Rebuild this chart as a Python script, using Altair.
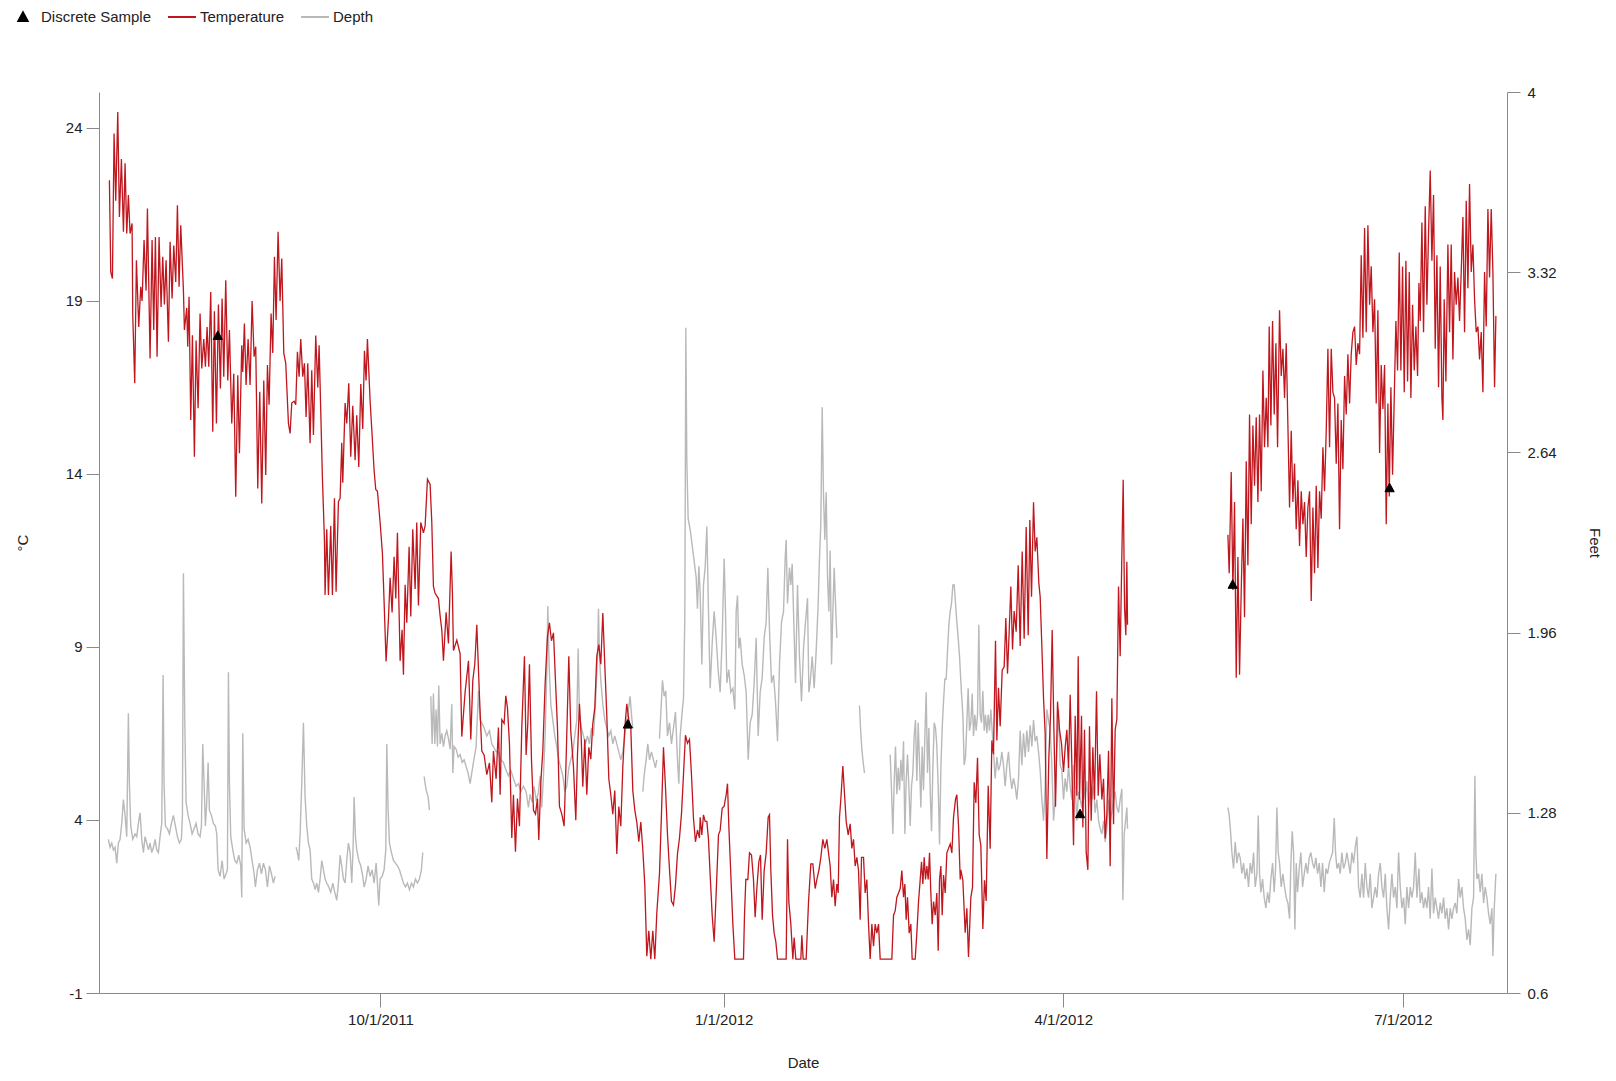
import altair as alt
import pandas as pd

# ---------------- data ----------------
# (days after 2011-10-01, value); None marks a gap in the record
temperature = [
    (-72.63, 22.49), (-72.27, 19.84), (-71.82, 19.65), (-71.38, 23.84), (-70.93, 21.9), (-70.39, 24.46),
    (-69.95, 21.43), (-69.41, 23.1), (-68.87, 21.0), (-68.43, 22.98), (-67.98, 20.95), (-67.54, 22.06),
    (-67.09, 20.95), (-66.55, 21.24), (-66.37, 18.59), (-65.84, 16.62), (-65.39, 20.18), (-64.77, 18.25),
    (-64.23, 19.41), (-63.87, 19.0), (-63.34, 20.76), (-62.80, 19.3), (-62.44, 21.67), (-61.73, 17.34),
    (-61.19, 20.76), (-60.75, 18.16), (-60.30, 20.85), (-59.85, 17.39), (-59.32, 20.85), (-58.78, 18.83),
    (-58.33, 20.28), (-57.89, 18.9), (-57.44, 20.18), (-56.81, 17.82), (-56.37, 20.71), (-55.83, 19.07),
    (-55.38, 20.6), (-54.85, 19.55), (-54.40, 21.77), (-53.96, 19.41), (-53.51, 21.19), (-52.79, 19.3),
    (-52.53, 18.16), (-51.90, 18.8), (-51.63, 17.68), (-51.28, 19.12), (-50.83, 15.56), (-50.38, 18.01),
    (-49.85, 14.5), (-49.40, 17.86), (-48.86, 15.9), (-48.33, 18.64), (-47.88, 17.05), (-47.34, 17.9),
    (-46.90, 17.1), (-46.45, 18.25), (-46.00, 17.1), (-45.47, 19.26), (-44.93, 15.22), (-44.49, 18.7),
    (-43.95, 15.46), (-43.41, 18.9), (-42.88, 16.47), (-42.43, 19.07), (-41.98, 16.81), (-41.45, 19.6),
    (-40.91, 16.7), (-40.46, 18.16), (-39.84, 15.46), (-39.30, 16.9), (-38.77, 13.34), (-38.23, 16.85),
    (-37.78, 14.6), (-37.16, 17.72), (-36.89, 16.95), (-36.45, 18.35), (-36.00, 16.57), (-35.46, 17.9),
    (-34.93, 16.57), (-34.39, 19.0), (-33.85, 17.39), (-33.41, 17.68), (-32.87, 13.58), (-32.34, 16.38),
    (-31.80, 13.15), (-31.26, 16.7), (-30.73, 13.97), (-30.28, 17.15), (-29.83, 16.0), (-29.30, 18.64),
    (-28.85, 17.5), (-28.40, 20.28), (-27.96, 18.45), (-27.42, 21.0), (-26.89, 19.0), (-26.44, 20.23),
    (-25.90, 17.5), (-25.37, 17.2), (-24.65, 15.46), (-24.20, 15.17), (-23.76, 16.05), (-23.13, 16.1),
    (-22.69, 16.0), (-22.24, 17.53), (-21.79, 16.81), (-21.35, 17.9), (-20.81, 16.81), (-20.36, 17.2),
    (-19.92, 15.65), (-19.47, 17.2), (-18.85, 14.89), (-18.40, 17.0), (-17.95, 15.13), (-17.33, 18.0),
    (-16.79, 16.5), (-16.43, 17.72), (-15.54, 13.88), (-15.00, 12.1), (-14.83, 10.5), (-14.38, 12.4),
    (-13.93, 10.5), (-13.31, 12.5), (-12.86, 10.5), (-12.32, 13.3), (-11.88, 10.6), (-11.25, 13.2),
    (-10.80, 13.3), (-10.36, 14.9), (-10.09, 13.75), (-9.46, 16.05), (-9.02, 15.46), (-8.48, 16.62),
    (-7.95, 14.5), (-7.41, 15.97), (-6.78, 14.4), (-6.34, 15.7), (-5.80, 14.2), (-5.26, 16.6),
    (-4.73, 15.3), (-4.28, 17.56), (-3.84, 16.7), (-3.48, 17.9), (-2.76, 16.1), (-2.32, 15.3),
    (-1.69, 14.1), (-1.25, 13.55), (-0.80, 13.5), (-0.08, 12.6), (0.54, 11.7), (0.99, 10.3),
    (1.52, 8.58), (2.15, 9.8), (2.60, 11.0), (3.13, 10.0), (3.67, 11.61), (4.12, 10.4),
    (4.56, 12.3), (5.28, 8.6), (5.81, 9.5), (6.17, 8.2), (6.62, 10.8), (7.07, 9.7),
    (7.69, 11.9), (8.14, 9.88), (8.67, 12.4), (9.30, 10.68), (9.74, 12.6), (10.19, 10.2),
    (10.82, 12.6), (11.53, 12.3), (11.98, 12.5), (12.61, 13.85), (13.32, 13.7), (13.77, 12.6),
    (14.21, 10.75), (14.66, 10.55), (15.55, 10.4), (16.00, 9.9), (16.45, 9.5), (16.89, 8.6),
    (17.61, 10.0), (18.23, 9.1), (18.95, 11.76), (19.30, 10.55), (19.57, 8.9), (20.47, 9.2),
    (21.36, 8.8), (21.81, 6.41), (22.70, 7.7), (23.60, 8.6), (24.22, 6.33), (24.76, 8.04),
    (25.29, 8.5), (25.83, 9.64), (26.54, 7.59), (27.17, 5.99), (27.79, 5.88), (28.51, 5.31),
    (29.22, 5.65), (29.85, 4.51), (30.29, 5.99), (31.01, 5.19), (31.63, 6.67), (32.08, 4.73),
    (32.53, 6.9), (33.15, 6.79), (33.60, 7.59), (34.05, 7.24), (34.58, 6.22), (35.21, 3.48),
    (35.65, 4.73), (36.19, 3.08), (36.73, 4.62), (37.26, 3.82), (37.89, 6.67), (38.60, 8.73),
    (39.05, 5.88), (39.50, 6.79), (39.94, 8.5), (40.48, 5.76), (41.02, 4.28), (41.55, 4.17),
    (42.09, 4.62), (42.44, 3.42), (42.98, 5.08), (43.52, 5.99), (44.14, 7.93), (44.77, 9.3),
    (45.30, 9.7), (45.84, 9.18), (46.38, 9.41), (46.91, 8.04), (47.45, 6.67), (47.98, 4.39),
    (48.61, 4.17), (49.23, 3.82), (49.77, 5.76), (50.49, 8.73), (51.02, 6.56), (51.74, 5.53),
    (52.36, 3.99), (52.81, 5.88), (53.34, 7.36), (53.79, 6.45), (54.24, 4.96), (54.77, 6.33),
    (55.31, 4.73), (55.85, 6.1), (56.38, 5.76), (56.92, 6.79), (57.45, 7.24), (57.99, 8.73),
    (58.53, 9.07), (59.06, 8.5), (59.60, 9.98), (60.13, 8.5), (60.67, 7.02), (61.21, 5.19),
    (61.74, 4.73), (62.28, 4.17), (62.81, 4.85), (63.35, 3.02), (63.89, 4.39), (64.42, 3.82),
    (64.96, 5.53), (65.50, 6.67), (66.03, 7.36), (66.57, 6.9), (67.10, 6.67), (67.64, 4.85),
    (68.18, 4.28), (68.71, 3.94), (69.25, 3.37), (69.78, 3.94), (70.32, 3.14), (70.86, 2.11),
    (71.39, 0.06), (71.93, 0.8), (72.46, -0.02), (73.00, 0.8), (73.54, -0.02), (74.07, 1.31),
    (74.79, 2.45), (75.32, 4.17), (75.86, 6.1), (76.39, 4.96), (76.93, 3.59), (77.47, 2.57),
    (78.00, 1.65), (78.54, 1.54), (79.07, 2.11), (79.61, 3.02), (80.15, 3.48), (80.68, 4.17),
    (81.22, 5.31), (81.75, 6.45), (82.29, 6.22), (82.83, 6.33), (83.36, 5.31), (83.90, 4.05),
    (84.43, 3.37), (84.97, 3.71), (85.51, 3.48), (85.69, 4.08), (86.14, 3.57), (86.58, 4.15),
    (87.03, 3.96), (87.48, 3.96), (87.92, 3.44), (88.37, 2.41), (88.91, 1.25), (89.44, 0.48),
    (89.98, 1.89), (90.60, 3.57), (91.05, 3.7), (91.59, 4.34), (92.12, 4.4), (92.66, 4.73),
    (93.02, 5.05), (93.37, 3.83), (93.91, 2.41), (94.45, 0.99), (94.98, -0.02), (97.30, -0.02),
    (97.57, 1.25), (97.93, 2.28), (98.47, 2.28), (98.91, 3.05), (99.45, 2.99), (99.98, 2.28),
    (100.43, 1.19), (100.88, 2.02), (101.41, 2.79), (101.86, 2.99), (102.31, 1.12), (102.84, 2.54),
    (103.38, 3.05), (103.92, 4.08), (104.27, 4.15), (104.63, 2.54), (105.08, 1.25), (105.52, 0.73),
    (105.97, 0.48), (106.42, -0.02), (108.74, -0.02), (109.10, 3.44), (109.45, 1.64), (109.99, 0.99),
    (110.53, -0.02), (110.88, 0.6), (111.33, -0.02), (112.67, -0.02), (112.94, 0.67), (113.30, -0.02),
    (114.10, -0.02), (114.73, 1.64), (115.35, 2.73), (115.89, 2.73), (116.51, 2.02), (116.96, 2.28),
    (117.50, 2.54), (118.03, 2.92), (118.57, 3.44), (119.10, 3.18), (119.64, 3.44), (120.09, 3.05),
    (120.53, 2.67), (120.98, 1.77), (121.43, 2.28), (121.87, 1.51), (122.32, 2.15), (122.68, 1.89),
    (123.03, 4.08), (123.39, 4.6), (123.93, 5.56), (124.46, 4.6), (124.82, 3.96), (125.36, 3.57),
    (125.89, 3.89), (126.34, 3.18), (126.79, 3.44), (127.23, 2.67), (127.68, 2.92), (128.13, 2.54),
    (128.57, 1.12), (128.93, 2.92), (129.47, 2.92), (129.91, 1.89), (130.36, 2.28), (130.81, 0.99),
    (131.25, -0.02), (131.70, 0.99), (132.15, 0.35), (132.59, 0.99), (133.04, 0.73), (133.49, 0.99),
    (133.93, -0.02), (137.06, -0.02), (137.51, 1.25), (137.96, 1.38), (138.40, 1.77), (138.85, 1.89),
    (139.30, 2.02), (139.74, 2.54), (140.19, 1.77), (140.55, 2.15), (140.90, 1.12), (141.26, 1.77),
    (141.71, 0.73), (142.15, 0.99), (142.51, -0.02), (143.32, -0.02), (143.76, 0.73), (144.21, 1.64),
    (144.66, 2.28), (145.01, 2.79), (145.37, 2.15), (145.73, 2.92), (146.08, 2.28), (146.44, 2.67),
    (146.80, 2.28), (147.16, 3.05), (147.51, 1.89), (147.87, 0.99), (148.23, 1.64), (148.68, 1.25),
    (149.12, 1.89), (149.48, 0.22), (149.84, 2.28), (150.20, 2.67), (150.55, 1.25), (150.91, 2.41),
    (151.36, 1.89), (151.80, 3.05), (152.25, 3.18), (152.70, 3.31), (153.14, 3.05), (153.59, 4.08),
    (154.13, 4.6), (154.48, 4.73), (154.93, 3.83), (155.38, 2.28), (155.55, 2.56), (156.09, 2.26),
    (156.71, 0.74), (157.16, 1.45), (157.60, 0.04), (158.23, 1.76), (158.68, 2.06), (159.12, 5.09),
    (159.57, 4.49), (160.02, 5.8), (160.46, 3.58), (160.91, 3.27), (161.45, 0.85), (161.89, 2.26),
    (162.34, 1.66), (162.88, 4.99), (163.41, 3.17), (163.86, 6.3), (164.30, 5.9), (164.84, 9.18),
    (165.20, 6.3), (165.64, 7.82), (166.09, 6.71), (166.63, 8.33), (167.16, 8.43), (167.61, 9.84),
    (168.06, 8.23), (168.50, 9.44), (168.95, 10.75), (169.40, 8.93), (169.84, 10.04), (170.38, 9.44),
    (170.92, 11.36), (171.45, 9.03), (171.99, 11.76), (172.52, 9.24), (173.06, 12.47), (173.60, 9.34),
    (174.04, 12.67), (174.49, 10.45), (175.03, 13.18), (175.47, 11.76), (175.92, 12.17), (176.45, 10.85),
    (176.81, 10.45), (177.26, 9.03), (177.71, 7.52), (178.15, 6.51), (178.60, 2.87), (179.13, 5.8),
    (179.58, 7.01), (180.03, 9.49), (180.47, 6.71), (180.92, 4.38), (181.46, 7.42), (181.99, 6.61),
    (182.53, 6.2), (183.07, 5.39), (183.51, 6.1), (183.96, 6.61), (184.41, 5.5), (184.85, 7.62),
    (185.30, 5.6), (185.75, 3.27), (186.19, 7.01), (186.64, 4.7), (187.00, 8.73), (187.35, 4.59),
    (187.89, 7.01), (188.25, 3.78), (188.69, 6.61), (189.14, 3.07), (189.59, 2.56), (190.03, 6.71),
    (190.48, 3.98), (190.93, 6.1), (191.38, 4.59), (191.91, 7.72), (192.36, 4.7), (192.80, 5.9),
    (193.34, 4.59), (193.79, 5.19), (194.23, 3.47), (194.68, 4.18), (195.13, 6.0), (195.57, 2.66),
    (196.02, 7.52), (196.47, 3.88), (196.91, 6.61), (197.36, 6.91), (197.81, 10.75), (198.25, 8.73),
    (198.70, 11.66), (199.06, 13.83), (199.42, 10.15), (199.77, 9.34), (200.04, 11.46), (200.22, 9.64),
    None,
    (227.12, 12.24), (227.47, 11.13), (228.01, 14.06), (228.46, 10.65), (228.90, 13.19), (229.35, 8.11),
    (229.80, 11.6), (230.24, 8.2), (230.69, 10.65), (231.14, 12.71), (231.58, 9.86), (232.03, 14.37),
    (232.48, 11.36), (232.92, 15.72), (233.37, 12.55), (233.82, 15.4), (234.26, 13.66), (234.71, 15.64),
    (235.16, 13.19), (235.60, 15.72), (236.05, 13.5), (236.50, 16.99), (236.94, 14.77), (237.39, 16.2),
    (237.84, 14.77), (238.19, 18.26), (238.64, 15.4), (239.09, 18.42), (239.53, 15.72), (239.98, 17.78),
    (240.43, 14.77), (240.96, 18.73), (241.41, 16.83), (241.86, 17.62), (242.30, 16.2), (242.75, 17.78),
    (243.20, 15.4), (243.64, 13.03), (244.09, 15.25), (244.54, 13.19), (244.98, 14.3), (245.43, 12.4),
    (245.88, 13.82), (246.32, 11.92), (246.77, 13.5), (247.22, 12.55), (247.66, 13.19), (248.11, 11.6),
    (248.56, 13.03), (249.00, 13.5), (249.45, 10.33), (249.90, 13.03), (250.34, 11.13), (250.79, 13.66),
    (251.24, 11.28), (251.68, 13.5), (252.13, 12.71), (252.58, 14.77), (253.02, 13.5), (253.47, 15.25),
    (253.92, 17.62), (254.36, 14.77), (254.81, 17.62), (255.26, 16.36), (255.70, 16.2), (256.15, 14.3),
    (256.60, 16.04), (257.04, 12.4), (257.49, 15.56), (257.94, 14.14), (258.39, 16.83), (258.83, 15.72),
    (259.28, 17.46), (259.73, 16.04), (260.17, 17.46), (260.62, 18.1), (261.07, 18.26), (261.51, 17.15),
    (261.96, 17.78), (262.41, 17.46), (262.85, 20.32), (263.30, 17.94), (263.75, 21.11), (264.19, 18.1),
    (264.64, 21.19), (265.09, 18.89), (265.53, 20.0), (265.98, 18.1), (266.43, 19.05), (266.87, 16.04),
    (267.32, 18.73), (267.77, 14.61), (268.21, 17.15), (268.66, 15.88), (269.11, 17.15), (269.55, 12.55),
    (270.00, 16.04), (270.36, 13.35), (270.80, 16.51), (271.25, 13.98), (271.70, 16.2), (272.14, 18.42),
    (272.59, 16.99), (273.04, 20.4), (273.48, 16.99), (273.93, 20.0), (274.38, 16.36), (274.82, 20.16),
    (275.27, 16.67), (275.72, 19.84), (276.16, 16.2), (276.61, 18.89), (277.06, 16.99), (277.50, 18.26),
    (277.95, 16.83), (278.31, 19.52), (278.66, 18.42), (279.11, 21.27), (279.55, 18.1), (280.00, 21.74),
    (280.45, 18.89), (280.89, 20.95), (281.34, 22.77), (281.79, 20.16), (282.23, 22.06), (282.68, 17.62),
    (283.13, 20.32), (283.57, 16.51), (284.02, 20.0), (284.47, 16.2), (284.74, 15.56), (285.09, 19.05),
    (285.54, 16.67), (286.08, 20.63), (286.52, 18.1), (286.97, 20.63), (287.42, 17.31), (287.86, 19.84),
    (288.31, 18.89), (288.76, 19.68), (289.20, 18.42), (289.65, 19.84), (290.10, 21.43), (290.54, 18.1),
    (290.99, 21.9), (291.44, 19.37), (291.88, 22.38), (292.33, 19.84), (292.78, 20.63), (293.22, 19.05),
    (293.67, 18.1), (294.12, 18.26), (294.56, 17.31), (295.01, 18.1), (295.46, 16.36), (295.90, 19.84),
    (296.35, 18.26), (296.80, 21.66), (297.24, 19.68), (297.69, 21.66), (298.14, 19.84), (298.58, 16.51),
    (298.94, 18.57),
]

depth = [
    (-72.90, 1.18), (-72.45, 1.15), (-72.00, 1.166), (-71.56, 1.14), (-71.11, 1.15), (-70.66, 1.09),
    (-70.22, 1.166), (-69.77, 1.18), (-69.32, 1.24), (-68.88, 1.33), (-68.43, 1.27), (-67.98, 1.19),
    (-67.54, 1.656), (-67.27, 1.39), (-66.91, 1.23), (-66.37, 1.18), (-65.75, 1.2), (-65.30, 1.19),
    (-64.86, 1.24), (-64.41, 1.28), (-63.96, 1.18), (-63.51, 1.13), (-63.07, 1.19), (-62.62, 1.166),
    (-62.17, 1.14), (-61.73, 1.166), (-61.28, 1.13), (-60.83, 1.15), (-60.39, 1.18), (-59.94, 1.14),
    (-59.50, 1.13), (-59.05, 1.19), (-58.60, 1.24), (-58.24, 1.8), (-57.98, 1.39), (-57.62, 1.23),
    (-57.08, 1.22), (-56.55, 1.2), (-56.01, 1.24), (-55.47, 1.27), (-54.94, 1.23), (-54.40, 1.19),
    (-53.87, 1.166), (-53.33, 1.18), (-53.06, 1.27), (-52.79, 2.184), (-52.44, 1.64), (-52.08, 1.32),
    (-51.54, 1.27), (-51.01, 1.24), (-50.47, 1.2), (-49.94, 1.22), (-49.40, 1.24), (-48.86, 1.2),
    (-48.33, 1.19), (-47.97, 1.23), (-47.61, 1.54), (-47.25, 1.39), (-46.90, 1.23), (-46.54, 1.32),
    (-46.18, 1.47), (-45.83, 1.29), (-45.29, 1.27), (-44.75, 1.24), (-44.22, 1.23), (-43.86, 1.2),
    (-43.50, 1.065), (-42.97, 1.04), (-42.43, 1.1), (-41.89, 1.03), (-41.36, 1.05), (-41.00, 1.065),
    (-40.73, 1.81), (-40.46, 1.39), (-40.11, 1.19), (-39.57, 1.14), (-39.03, 1.1), (-38.50, 1.09),
    (-37.96, 1.12), (-37.43, 1.08), (-37.16, 0.96), (-36.89, 1.58), (-36.53, 1.22), (-35.99, 1.166),
    (-35.46, 1.18), (-34.93, 1.15), (-34.39, 1.1), (-33.85, 1.05), (-33.50, 1.0), (-32.96, 1.065),
    (-32.42, 1.09), (-31.89, 1.05), (-31.35, 1.09), (-30.82, 1.065), (-30.28, 1.0), (-29.74, 1.08),
    (-29.21, 1.05), (-28.67, 1.015), (-28.22, 1.04),
    None,
    (-22.60, 1.15), (-22.24, 1.13), (-21.88, 1.1), (-21.52, 1.2), (-21.08, 1.39), (-20.63, 1.62),
    (-20.19, 1.34), (-19.74, 1.23), (-19.29, 1.166), (-18.84, 1.14), (-18.40, 1.03), (-17.95, 1.015),
    (-17.50, 0.99), (-17.06, 1.015), (-16.61, 0.98), (-16.16, 1.03), (-15.72, 1.1), (-15.27, 1.065),
    (-14.82, 1.03), (-14.38, 1.015), (-13.84, 1.0), (-13.30, 0.98), (-12.77, 1.015), (-12.23, 0.98),
    (-11.70, 0.95), (-11.25, 1.015), (-10.80, 1.12), (-10.36, 1.08), (-9.91, 1.03), (-9.46, 1.015),
    (-9.02, 1.1), (-8.57, 1.166), (-8.12, 1.13), (-7.68, 1.015), (-7.32, 1.15), (-7.05, 1.34),
    (-6.69, 1.19), (-6.34, 1.14), (-5.80, 1.1), (-5.26, 1.08), (-4.73, 1.04), (-4.37, 1.0),
    (-3.83, 1.03), (-3.30, 1.08), (-2.76, 1.04), (-2.22, 1.065), (-1.69, 1.015), (-1.15, 1.09),
    (-0.80, 1.015), (-0.44, 0.93), (-0.08, 1.03), (0.45, 1.04), (0.99, 1.065), (1.44, 1.14),
    (1.71, 1.54), (2.06, 1.29), (2.42, 1.166), (2.95, 1.13), (3.49, 1.1), (4.03, 1.09),
    (4.56, 1.08), (5.10, 1.065), (5.63, 1.04), (6.17, 1.015), (6.71, 1.0), (7.24, 1.015),
    (7.78, 0.99), (8.32, 1.015), (8.85, 1.0), (9.39, 1.03), (9.92, 1.015), (10.46, 1.03),
    (10.99, 1.065), (11.35, 1.13),
    None,
    (11.71, 1.417), (12.25, 1.367), (12.78, 1.34), (13.14, 1.29),
    None,
    (13.50, 1.72), (13.86, 1.54), (14.21, 1.73), (14.57, 1.54), (14.93, 1.67), (15.28, 1.53),
    (15.64, 1.76), (16.00, 1.54), (16.45, 1.58), (16.89, 1.53), (17.34, 1.57), (17.79, 1.59),
    (18.23, 1.56), (18.68, 1.52), (19.13, 1.69), (19.40, 1.43), (19.75, 1.53), (20.29, 1.52),
    (20.83, 1.49), (21.36, 1.5), (21.90, 1.47), (22.43, 1.48), (22.97, 1.455), (23.50, 1.43),
    (24.04, 1.39), (24.93, 1.47), (25.65, 1.53), (26.27, 1.74), (26.72, 1.63), (27.17, 1.62),
    (27.79, 1.6), (28.51, 1.57), (29.22, 1.59), (29.85, 1.54), (30.29, 1.53), (31.01, 1.51),
    (31.63, 1.51), (32.26, 1.48), (32.97, 1.47), (33.69, 1.44), (34.31, 1.42), (34.94, 1.44),
    (35.65, 1.41), (36.37, 1.38), (37.00, 1.39), (37.62, 1.36), (38.33, 1.38), (39.05, 1.36),
    (39.67, 1.3), (40.12, 1.35), (40.66, 1.32), (41.19, 1.38), (41.73, 1.33), (42.27, 1.35),
    (42.80, 1.42), (43.25, 1.3), (43.70, 1.42), (44.14, 1.57), (44.59, 1.81), (44.86, 2.06),
    (45.21, 1.84), (45.66, 1.69), (46.20, 1.63), (46.73, 1.57), (47.27, 1.53), (47.80, 1.48),
    (48.34, 1.45), (48.88, 1.42), (49.41, 1.36), (49.95, 1.38), (50.49, 1.45), (51.02, 1.48),
    (51.56, 1.51), (52.09, 1.57), (52.63, 1.63), (52.99, 1.9), (53.34, 1.65), (53.88, 1.6),
    (54.42, 1.57), (54.95, 1.54), (55.49, 1.57), (56.02, 1.54), (56.56, 1.6), (57.10, 1.57),
    (57.63, 1.69), (58.17, 1.87), (58.44, 2.05), (58.71, 1.87), (59.06, 1.78), (59.60, 1.69),
    (60.13, 1.63), (60.67, 1.6), (61.21, 1.57), (61.74, 1.59), (62.28, 1.54), (62.81, 1.57),
    (63.35, 1.54), (63.89, 1.51), (64.42, 1.48), (64.96, 1.51), (65.50, 1.57), (66.03, 1.63),
    (66.57, 1.68), (66.92, 1.72), (67.28, 1.65), (67.64, 1.6),
    None,
    (70.32, 1.36), (70.68, 1.42), (71.21, 1.48), (71.66, 1.54), (72.11, 1.48), (72.64, 1.51),
    (73.18, 1.48), (73.71, 1.45), (74.07, 1.48),
    None,
    (74.79, 1.56), (75.23, 1.68), (75.59, 1.78), (76.04, 1.72), (76.48, 1.74), (76.93, 1.57),
    (77.47, 1.62), (78.00, 1.54), (78.54, 1.6), (79.07, 1.66), (79.61, 1.48), (79.97, 1.39),
    (80.33, 1.57), (80.86, 1.66), (81.22, 1.71), (81.58, 2.02), (81.85, 3.11), (82.11, 2.61),
    (82.47, 2.39), (83.00, 2.35), (83.54, 2.29), (84.08, 2.23), (84.61, 2.17), (84.97, 2.05),
    (85.33, 2.21), (85.69, 2.11), (86.14, 1.84), (86.58, 2.14), (87.03, 2.205), (87.48, 2.36),
    (87.92, 2.04), (88.37, 1.75), (88.91, 1.92), (89.44, 2.04), (89.98, 1.94), (90.51, 1.82),
    (91.05, 1.735), (91.59, 1.94), (92.12, 2.24), (92.48, 2.04), (92.84, 1.77), (93.37, 1.82),
    (93.91, 1.735), (94.45, 1.75), (94.98, 1.67), (95.34, 2.04), (95.70, 2.1), (96.05, 1.9),
    (96.41, 1.94), (96.95, 1.84), (97.48, 1.8), (98.02, 1.735), (98.56, 1.48), (99.09, 1.62),
    (99.63, 1.65), (100.16, 1.77), (100.70, 1.94), (101.24, 1.57), (101.77, 1.735), (102.31, 1.79),
    (102.84, 1.94), (103.38, 2.0), (103.83, 2.205), (104.27, 1.97), (104.81, 1.77), (105.35, 1.8),
    (105.88, 1.7), (106.42, 1.55), (106.95, 1.84), (107.49, 2.0), (108.03, 2.04), (108.47, 2.24),
    (108.74, 2.31), (109.10, 2.07), (109.63, 2.205), (109.99, 2.14), (110.35, 2.22), (110.71, 2.04),
    (111.24, 1.77), (111.78, 2.14), (112.31, 1.87), (112.85, 1.7), (113.39, 1.9), (113.92, 2.0),
    (114.46, 2.09), (114.82, 1.735), (115.17, 1.77), (115.71, 1.87), (116.25, 1.75), (116.78, 1.89),
    (117.32, 2.07), (117.67, 2.24), (118.03, 2.375), (118.39, 2.81), (118.75, 2.475), (119.10, 2.31),
    (119.46, 2.49), (119.82, 2.17), (120.18, 2.04), (120.53, 2.27), (120.89, 1.84), (121.25, 2.04),
    (121.61, 2.205), (121.96, 2.07), (122.32, 1.94),
    None,
    (128.39, 1.685), (128.66, 1.6), (129.02, 1.52), (129.38, 1.47), (129.73, 1.43),
    None,
    (136.61, 1.5), (136.97, 1.365), (137.33, 1.2), (137.69, 1.4), (138.04, 1.53), (138.40, 1.35),
    (138.76, 1.45), (139.12, 1.365), (139.47, 1.48), (139.83, 1.4), (140.19, 1.55), (140.55, 1.2),
    (140.90, 1.4), (141.26, 1.5), (141.62, 1.38), (141.97, 1.23), (142.33, 1.38), (142.69, 1.43),
    (143.05, 1.57), (143.40, 1.63), (143.76, 1.4), (144.12, 1.62), (144.48, 1.47), (144.83, 1.3),
    (145.19, 1.53), (145.55, 1.365), (145.91, 1.57), (146.26, 1.735), (146.62, 1.43), (146.98, 1.6),
    (147.34, 1.365), (147.69, 1.21), (148.05, 1.45), (148.41, 1.62), (148.77, 1.6), (149.12, 1.53),
    (149.48, 1.38), (149.84, 1.16), (150.20, 1.45), (150.55, 1.6), (150.91, 1.7), (151.27, 1.785),
    (151.62, 1.785), (151.98, 1.89), (152.34, 1.99), (152.70, 2.04), (153.05, 2.07), (153.41, 2.14),
    (153.77, 2.14), (154.13, 2.07), (154.48, 2.0), (154.84, 1.94), (155.20, 1.87), (155.73, 1.73),
    (156.09, 1.65), (156.44, 1.46), (156.80, 1.49), (157.16, 1.62), (157.51, 1.75), (157.87, 1.59),
    (158.23, 1.62), (158.59, 1.73), (158.94, 1.57), (159.30, 1.65), (159.66, 1.59), (160.02, 1.65),
    (160.37, 1.99), (160.73, 1.65), (161.09, 1.62), (161.45, 1.74), (161.80, 1.59), (162.16, 1.65),
    (162.52, 1.58), (162.88, 1.65), (163.23, 1.59), (163.59, 1.67), (163.95, 1.59), (164.30, 1.51),
    (164.75, 1.41), (165.20, 1.49), (165.64, 1.44), (166.09, 1.46), (166.54, 1.51), (166.98, 1.46),
    (167.43, 1.38), (167.88, 1.46), (168.32, 1.51), (168.77, 1.42), (169.22, 1.37), (169.67, 1.41),
    (170.11, 1.38), (170.56, 1.33), (171.01, 1.41), (171.45, 1.59), (171.90, 1.46), (172.35, 1.58),
    (172.79, 1.49), (173.24, 1.59), (173.69, 1.51), (174.13, 1.61), (174.58, 1.53), (175.03, 1.63),
    (175.47, 1.55), (175.92, 1.57), (176.37, 1.51), (176.81, 1.44), (177.26, 1.33), (177.71, 1.25),
    (178.15, 1.38), (178.60, 1.67), (179.05, 1.63), (179.49, 1.59), (179.94, 1.46), (180.39, 1.25),
    (180.83, 1.33), (181.28, 1.51), (181.73, 1.67), (182.17, 1.46), (182.62, 1.44), (183.07, 1.33),
    (183.51, 1.41), (183.96, 1.36), (184.41, 1.46), (184.85, 1.38), (185.30, 1.33), (185.75, 1.46),
    (186.19, 1.38), (186.64, 1.25), (187.09, 1.36), (187.53, 1.33), (187.98, 1.3), (188.43, 1.38),
    (188.87, 1.33), (189.32, 1.4), (189.77, 1.3), (190.21, 1.36), (190.66, 1.33), (191.11, 1.38),
    (191.55, 1.28), (192.00, 1.33), (192.45, 1.25), (192.89, 1.22), (193.34, 1.2), (193.79, 1.25),
    (194.23, 1.17), (194.68, 1.22), (195.13, 1.33), (195.57, 1.25), (196.02, 1.28), (196.47, 1.33),
    (196.91, 1.36), (197.36, 1.3), (197.81, 1.28), (198.25, 1.33), (198.70, 1.37), (198.97, 0.95),
    (199.33, 1.2), (199.69, 1.25), (200.04, 1.3), (200.22, 1.22),
    None,
    (227.12, 1.3), (227.47, 1.27), (227.83, 1.21), (228.19, 1.13), (228.63, 1.07), (229.08, 1.17),
    (229.53, 1.09), (229.97, 1.13), (230.42, 1.11), (230.87, 1.05), (231.31, 1.09), (231.76, 1.03),
    (232.21, 1.07), (232.65, 1.0), (233.10, 1.09), (233.55, 1.05), (233.99, 1.13), (234.44, 1.0),
    (234.89, 1.05), (235.25, 1.27), (235.60, 1.05), (235.96, 0.98), (236.41, 1.03), (236.85, 0.96),
    (237.30, 0.92), (237.75, 0.98), (238.19, 0.94), (238.64, 1.03), (239.09, 1.09), (239.53, 0.98),
    (239.89, 1.07), (240.25, 1.3), (240.61, 1.13), (240.96, 1.09), (241.41, 1.0), (241.86, 1.05),
    (242.30, 1.0), (242.75, 0.96), (243.20, 0.94), (243.64, 0.88), (244.00, 1.09), (244.36, 1.21),
    (244.72, 1.13), (245.07, 0.84), (245.43, 1.09), (245.79, 0.98), (246.24, 1.07), (246.68, 1.13),
    (247.13, 1.0), (247.58, 1.05), (248.02, 1.09), (248.47, 1.05), (248.92, 1.11), (249.36, 1.13),
    (249.81, 1.09), (250.26, 1.07), (250.70, 1.11), (251.15, 1.05), (251.60, 1.09), (252.04, 1.0),
    (252.49, 1.09), (252.94, 0.98), (253.38, 1.07), (253.83, 1.05), (254.28, 1.09), (254.72, 1.11),
    (255.17, 1.13), (255.62, 1.26), (255.97, 1.13), (256.33, 1.07), (256.78, 1.09), (257.22, 1.05),
    (257.67, 1.13), (258.12, 1.07), (258.56, 1.09), (259.01, 1.13), (259.46, 1.09), (259.90, 1.05),
    (260.35, 1.13), (260.80, 1.09), (261.24, 1.15), (261.69, 1.19), (262.14, 1.0), (262.58, 0.96),
    (263.03, 1.05), (263.48, 0.96), (263.93, 1.09), (264.37, 1.0), (264.82, 0.96), (265.27, 1.05),
    (265.71, 0.92), (266.16, 0.96), (266.61, 1.0), (267.05, 0.96), (267.50, 1.05), (267.95, 1.09),
    (268.39, 1.0), (268.84, 0.96), (269.29, 1.05), (269.73, 0.92), (270.18, 0.84), (270.63, 0.96),
    (271.07, 1.05), (271.52, 0.96), (271.97, 1.0), (272.41, 0.92), (272.86, 1.13), (273.31, 1.0),
    (273.75, 0.92), (274.20, 0.96), (274.65, 0.86), (275.09, 1.0), (275.54, 0.92), (275.99, 1.0),
    (276.43, 0.96), (276.88, 1.0), (277.33, 1.13), (277.77, 0.96), (278.31, 1.07), (278.66, 0.94),
    (279.11, 0.98), (279.55, 0.92), (280.00, 0.96), (280.45, 0.92), (280.89, 1.0), (281.34, 0.88),
    (281.79, 1.07), (282.23, 0.9), (282.68, 0.96), (283.13, 0.92), (283.57, 0.88), (284.02, 0.94),
    (284.47, 0.9), (284.92, 0.96), (285.36, 0.88), (285.81, 0.92), (286.26, 0.84), (286.70, 0.92),
    (287.15, 0.88), (287.60, 0.92), (288.04, 0.94), (288.49, 0.9), (288.94, 1.03), (289.38, 0.96),
    (289.83, 1.0), (290.28, 0.92), (290.72, 0.88), (291.17, 0.8), (291.62, 0.84), (292.06, 0.78),
    (292.51, 0.92), (292.96, 0.96), (293.31, 1.42), (293.58, 1.13), (293.85, 1.03), (294.30, 1.05),
    (294.74, 0.98), (295.19, 1.05), (295.64, 0.94), (296.08, 1.0), (296.53, 0.96), (296.98, 0.9),
    (297.42, 0.86), (297.87, 0.92), (298.14, 0.74), (298.50, 0.92), (298.94, 1.05),
]

sample_dates = ["2011-08-18T09:50:00", "2011-12-06T07:12:00", "2012-04-05T12:00:00",
                "2012-05-16T09:36:00", "2012-06-27T10:48:00"]
sample_values = [18.0, 6.77, 4.18, 10.81, 13.6]

series_names = ["Discrete Sample", "Temperature", "Depth"]
series_colors = ["#000000", "#c0161d", "#b9b9b9"]

temp_ticks = [-1, 4, 9, 14, 19, 24]
depth_ticks = [0.6, 1.28, 1.96, 2.64, 3.32, 4]

# ---------------- tables ----------------
BASE = pd.Timestamp("2011-10-01")


def to_frame(pairs):
    rows, seg = [], 0
    for p in pairs:
        if p is None:
            seg += 1
            continue
        rows.append({"date": BASE + pd.Timedelta(days=p[0]), "value": p[1], "seg": seg})
    return pd.DataFrame(rows)


temp_df = to_frame(temperature)
depth_df = to_frame(depth)
sample_df = pd.DataFrame({"date": pd.to_datetime(sample_dates), "value": sample_values,
                          "series": "Discrete Sample"})

FONT = "Liberation Sans, Arial, sans-serif"
FS = 15
AX = "#8a8a8a"
TXT = "#222222"

x_enc = alt.X(
    "date:T",
    scale=alt.Scale(domain=[alt.DateTime(year=2011, month=7, date=17, hours=14),
                            alt.DateTime(year=2012, month=7, date=28, hours=22)]),
    axis=alt.Axis(
        values=[alt.DateTime(year=2011, month=10, date=1), alt.DateTime(year=2012, month=1, date=1),
                alt.DateTime(year=2012, month=4, date=1), alt.DateTime(year=2012, month=7, date=1)],
        format="%-m/%-d/%Y", title="Date", grid=False, tickSize=14, tickColor=AX, domainColor=AX,
        labelFont=FONT, labelFontSize=FS, labelColor=TXT, labelPadding=5,
        titleFont=FONT, titleFontSize=FS, titleFontWeight="normal", titleColor=TXT, titlePadding=28,
    ),
)

temp_scale = alt.Scale(domain=[-1, 25.04], nice=False, zero=False)
temp_y = alt.Y(
    "value:Q", scale=temp_scale,
    axis=alt.Axis(values=temp_ticks, orient="left", title="°C", grid=False, tickSize=13,
                  tickColor=AX, domainColor=AX, labelFont=FONT, labelFontSize=FS, labelColor=TXT,
                  labelExpr="'' + datum.value",
                  labelPadding=4, titleFont=FONT, titleFontSize=FS, titleFontWeight="normal",
                  titleColor=TXT, titlePadding=35),
)

depth_y = alt.Y(
    "value:Q", scale=alt.Scale(domain=[0.6, 4], nice=False, zero=False),
    axis=alt.Axis(values=depth_ticks, orient="right", title="Feet", grid=False, tickSize=13,
                  tickColor=AX, domainColor=AX, labelFont=FONT, labelFontSize=FS, labelColor=TXT,
                  labelExpr="'' + datum.value",
                  labelPadding=7, titleFont=FONT, titleFontSize=FS, titleFontWeight="normal",
                  titleColor=TXT, titlePadding=30),
)

depth_line = alt.Chart(depth_df).mark_line(color=series_colors[2], strokeWidth=1.4).encode(
    x=x_enc, y=depth_y, detail="seg:N")

temp_line = alt.Chart(temp_df).mark_line(color=series_colors[1], strokeWidth=1.3).encode(
    x=x_enc, y=temp_y, detail="seg:N")

tri = "M0,-0.33L0.33,0.28L-0.33,0.28Z"
dash = "M-1,0L1,0"
legend = alt.Legend(orient="none", legendX=-91, legendY=-90, direction="horizontal", title=None,
                    symbolSize=784, symbolStrokeWidth=2, labelFont=FONT, labelFontSize=FS,
                    labelColor=TXT, labelOffset=3, columnPadding=12, padding=0)

points = alt.Chart(sample_df).mark_point(filled=True, size=784, strokeWidth=1, opacity=1).encode(
    x=x_enc, y=temp_y,
    fill=alt.Fill("series:N", scale=alt.Scale(domain=series_names, range=series_colors), legend=legend),
    stroke=alt.Stroke("series:N", scale=alt.Scale(domain=series_names, range=series_colors), legend=legend),
    shape=alt.Shape("series:N", scale=alt.Scale(domain=series_names, range=[tri, dash, dash]), legend=legend),
)

chart = alt.layer(depth_line, alt.layer(temp_line, points)).resolve_scale(
    y="independent"
).properties(
    width=1408, height=901,
    autosize=alt.AutoSizeParams(type="none"),
    padding={"left": 91, "top": 84, "right": 101, "bottom": 80},
).configure_view(stroke=None)

chart.save("out.html", embed_options={"renderer": "svg", "actions": False})
